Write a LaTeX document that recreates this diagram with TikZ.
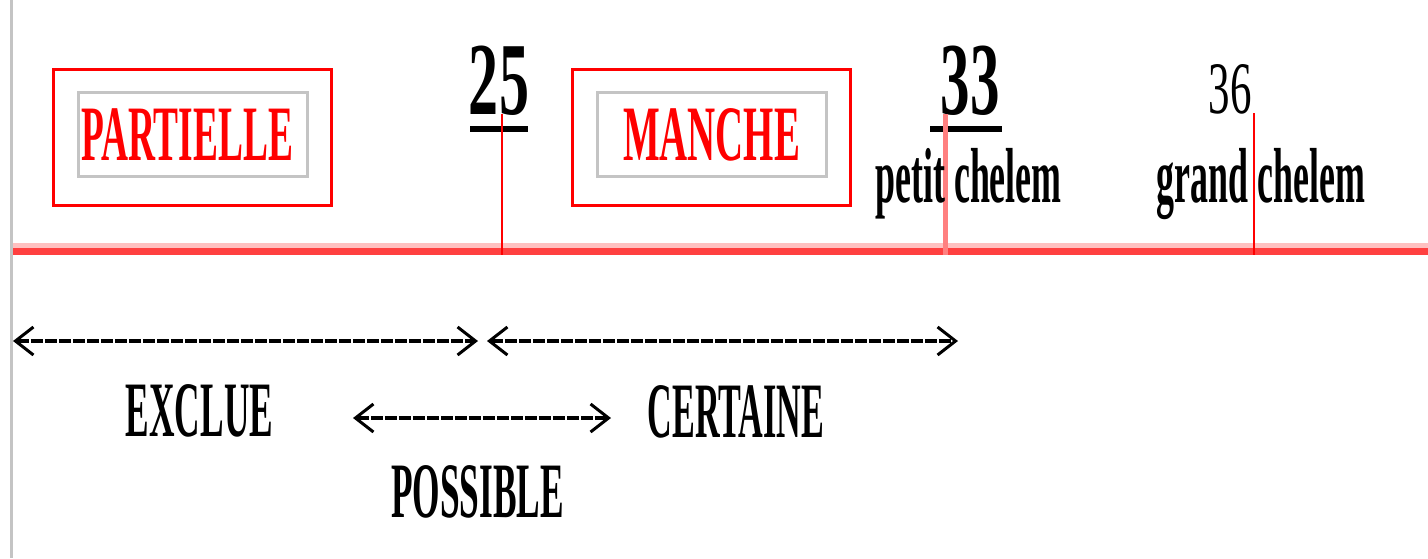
\documentclass[tikz,border=0pt]{standalone}
\usepackage{fontspec}
\setmainfont{Liberation Serif}
\usetikzlibrary{arrows.meta}
\definecolor{boxred}{RGB}{255,0,0}
\definecolor{framegray}{RGB}{196,196,196}
\definecolor{axisred}{RGB}{255,64,64}
\definecolor{axispink}{RGB}{255,192,192}
\definecolor{tickpink}{RGB}{255,128,128}
\newcommand\sqzb[3]{\scalebox{#1}[1]{\fontsize{#2}{#2}\selectfont\bfseries #3}}
\newcommand\sqzr[3]{\scalebox{#1}[1]{\fontsize{#2}{#2}\selectfont #3}}
\begin{document}
\begin{tikzpicture}[x=1pt,y=-1pt,
  lbl/.style={inner sep=0pt, anchor=base},
  outerbox/.style={draw=boxred, line width=3pt, minimum width=278pt, minimum height=136pt, inner sep=0pt},
  innerbox/.style={draw=framegray, line width=3pt, minimum width=229pt, minimum height=84pt, inner sep=0pt},
  tickline/.style={line width=2.5pt, draw=boxred},
  spanarrow/.style={line width=4pt, dash pattern=on 12pt off 2pt,
    {Straight Barb[length=18pt,width=28pt,line width=3pt]}-{Straight Barb[length=18pt,width=28pt,line width=3pt]}},
  uline/.style={line width=6pt, draw=black}
]
\useasboundingbox[fill=white] (0,0) rectangle (1428,558);

% left gray rule
\coordinate (gtop) at (11,0);
\coordinate (gbot) at (11,558);
\draw[framegray, line width=3pt] (gtop) -- (gbot);

% axis
\coordinate (axL) at (13,251.5);
\coordinate (axR) at (1428,251.5);
\coordinate (apL) at (13,245.5);
\coordinate (apR) at (1428,245.5);
\draw[axispink, line width=6pt] (apL) -- (apR);
\draw[axisred, line width=7pt] (axL) -- (axR);

% boxes
\node[outerbox] (partO) at (192.5,137.5) {};
\node[innerbox] (partI) at (193,134.5) {};
\node[lbl, text=boxred] (part) at (187,160) {\sqzb{0.476}{78.5}{PARTIELLE}};

\node[outerbox] (manO) at (711.5,137.5) {};
\node[innerbox] (manI) at (712,134.5) {};
\node[lbl, text=boxred] (man) at (711.5,160) {\sqzb{0.495}{78.5}{MANCHE}};

% numbers
\node[lbl] (n25) at (499,114) {\sqzb{0.58}{103.5}{25}};
\node[lbl] (n33) at (970,114) {\sqzb{0.57}{103.5}{33}};
\node[lbl] (n36) at (1230,113) {\sqzr{0.58}{74}{36}};

\coordinate (u25a) at (470,129);
\coordinate (u25b) at (528,129);
\coordinate (u33a) at (930,129);
\coordinate (u33b) at (1002,129);
\draw[uline] (u25a) -- (u25b);
\draw[uline] (u33a) -- (u33b);

% ticks
\coordinate (t25a) at (502,114);
\coordinate (t25b) at (502,255);
\coordinate (t33a) at (945,114);
\coordinate (t33b) at (945,255);
\coordinate (t36a) at (1254,113);
\coordinate (t36b) at (1254,255);
\draw[tickline] (t25a) -- (t25b);
\draw[tickline, draw=tickpink, line width=5pt] (t33a) -- (t33b);
\draw[tickline] (t36a) -- (t36b);

\node[lbl] (petit) at (968.5,202) {\sqzb{0.46}{78}{petit chelem}};
\node[lbl] (grand) at (1261,202) {\sqzb{0.46}{78}{grand chelem}};

% span arrows
\coordinate (a1l) at (13,341);
\coordinate (a1r) at (478,341);
\coordinate (a2l) at (487,341);
\coordinate (a2r) at (958,341);
\coordinate (a3l) at (353,418);
\coordinate (a3r) at (611,418);
\draw[spanarrow] (a1l) -- (a1r);
\draw[spanarrow] (a2l) -- (a2r);
\draw[spanarrow] (a3l) -- (a3r);

\node[lbl] (excl) at (199.5,436) {\sqzb{0.45}{78.5}{EXCLUE}};
\node[lbl] (cert) at (736,437) {\sqzb{0.435}{78.5}{CERTAINE}};
\node[lbl] (poss) at (477.5,517) {\sqzb{0.45}{78.5}{POSSIBLE}};
\end{tikzpicture}
\end{document}
